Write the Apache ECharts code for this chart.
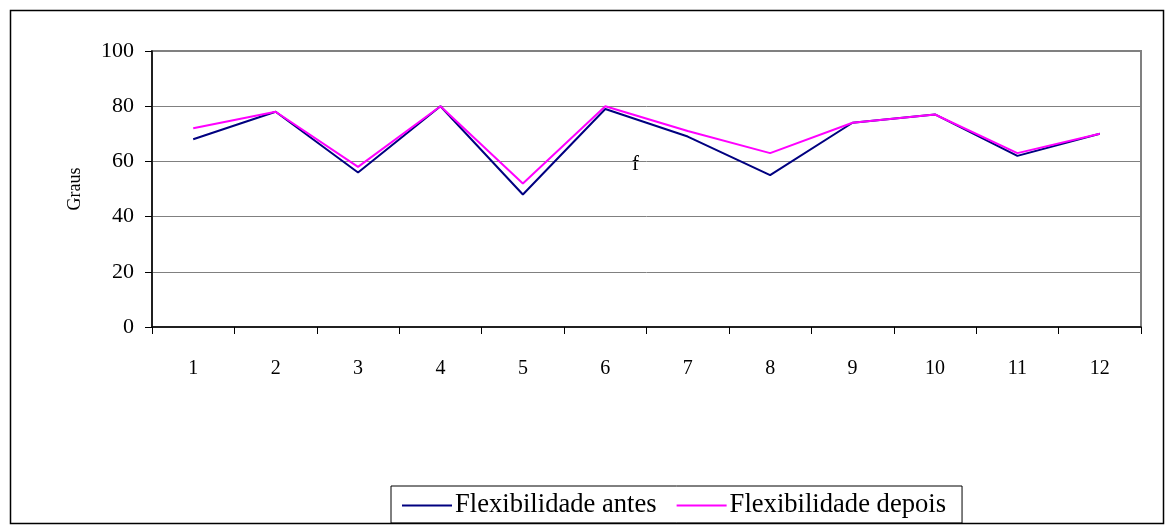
<!DOCTYPE html>
<html>
<head>
<meta charset="utf-8">
<script src="https://cdn.jsdelivr.net/npm/echarts@6/dist/echarts.min.js"></script>
<style>
html,body{margin:0;padding:0;background:#fff;}
#chart{width:1167px;height:526px;}
</style>
</head>
<body>
<div id="chart"></div>
<script>
const categories = ['1','2','3','4','5','6','7','8','9','10','11','12'];
const antes = [68, 78, 56, 80, 48, 79, 69, 55, 74, 77, 62, 70];
const depois = [72, 78, 58, 80, 52, 80, 71, 63, 74, 77, 63, 70];
const yTicks = [0, 20, 40, 60, 80, 100];
const seriesNames = ['Flexibilidade antes', 'Flexibilidade depois'];
const yName = 'Graus';
const FONT = '"Liberation Serif", "DejaVu Serif", serif';

const chart = echarts.init(document.getElementById('chart'), null, {renderer: 'canvas'});
chart.setOption({
  animation: false,
  backgroundColor: '#fff',
  grid: {left: 152, top: 51, right: 26, bottom: 199, show: true, borderColor: '#808080', borderWidth: 2, backgroundColor: 'transparent'},
  xAxis: {
    type: 'category',
    data: categories,
    boundaryGap: true,
    axisLine: {lineStyle: {color: '#000', width: 1.5}},
    axisTick: {show: true, length: 7, inside: false, lineStyle: {color: '#000', width: 1}},
    axisLabel: {color: '#000', fontFamily: FONT, fontSize: 20, margin: 32},
    splitLine: {show: false}
  },
  yAxis: {
    type: 'value',
    min: yTicks[0], max: yTicks[yTicks.length - 1], interval: 20,
    name: yName,
    nameLocation: 'middle',
    nameGap: 68,
    nameRotate: 90,
    nameTextStyle: {color: '#000', fontFamily: FONT, fontSize: 18},
    axisLine: {show: true, lineStyle: {color: '#000', width: 1.5}},
    axisTick: {show: true, length: 7, lineStyle: {color: '#000', width: 1}},
    axisLabel: {color: '#000', fontFamily: FONT, fontSize: 22, margin: 18},
    splitLine: {show: true, lineStyle: {color: '#808080', width: 1}}
  },
  legend: {
    data: seriesNames,
    left: 391, top: 486,
    orient: 'horizontal',
    itemWidth: 50, itemHeight: 2,
    itemGap: 20,
    icon: 'rect',
    padding: [6, 16, 4, 11],
    borderColor: '#000', borderWidth: 1,
    textStyle: {color: '#000', fontFamily: FONT, fontSize: 26.6, padding: [0, 0, 0, -2]}
  },
  series: [
    {name: seriesNames[0], type: 'line', data: antes, showSymbol: false, symbol: 'none', lineStyle: {color: '#000080', width: 2}, itemStyle: {color: '#000080'}},
    {name: seriesNames[1], type: 'line', data: depois, showSymbol: false, symbol: 'none', lineStyle: {color: '#FF00FF', width: 2}, itemStyle: {color: '#FF00FF'}}
  ],
  graphic: [
    {type: 'rect', left: 8, top: 8, shape: {width: 1153, height: 513}, style: {fill: 'none', stroke: '#000', lineWidth: 1.5}, silent: true, z: -1},
    {type: 'text', left: 632, top: 154, style: {text: 'f', font: '21px ' + FONT, fill: '#000'}}
  ]
});
</script>
</body>
</html>
